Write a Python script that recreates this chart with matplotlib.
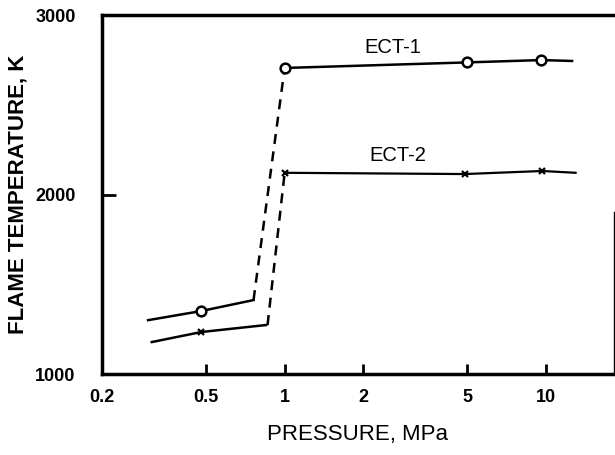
import matplotlib
matplotlib.use("Agg")
import matplotlib.pyplot as plt

plt.rcParams['font.family'] = ['Liberation Sans', 'DejaVu Sans']

# ECT-1 (circles)
ect1_low_p = [0.30, 0.48, 0.76]
ect1_low_t = [1300, 1351, 1412]
ect1_jump_p = [0.76, 1.0]
ect1_jump_t = [1412, 2705]
ect1_high_p = [1.0, 5.0, 9.6, 12.6]
ect1_high_t = [2705, 2736, 2749, 2744]
ect1_mark_p = [0.48, 1.0, 5.0, 9.6]
ect1_mark_t = [1351, 2705, 2736, 2749]

# ECT-2 (crosses)
ect2_low_p = [0.31, 0.48, 0.85]
ect2_low_t = [1178, 1234, 1273]
ect2_jump_p = [0.86, 1.0]
ect2_jump_t = [1273, 2121]
ect2_high_p = [1.0, 4.9, 9.7, 13.0]
ect2_high_t = [2121, 2114, 2131, 2121]
ect2_mark_p = [0.48, 1.0, 4.9, 9.7]
ect2_mark_t = [1234, 2121, 2114, 2131]

xticks = [0.2, 0.5, 1, 2, 5, 10]
xtick_labels = ["0.2", "0.5", "1", "2", "5", "10"]
yticks = [1000, 2000, 3000]

fig = plt.figure(figsize=(6.15, 4.55), dpi=100)
ax = fig.add_axes([0.166, 0.178, 0.832, 0.789])

# curves
ax.plot(ect1_low_p, ect1_low_t, color='black', lw=1.8)
ax.plot(ect1_jump_p, ect1_jump_t, color='black', lw=1.8, ls=(0, (4, 3)))
ax.plot(ect1_high_p, ect1_high_t, color='black', lw=1.8)
ax.plot(ect1_mark_p, ect1_mark_t, 'o', ms=7, mfc='white', mec='black', mew=1.8)

ax.plot(ect2_low_p, ect2_low_t, color='black', lw=1.8)
ax.plot(ect2_jump_p, ect2_jump_t, color='black', lw=1.8, ls=(0, (4, 3)))
ax.plot(ect2_high_p, ect2_high_t, color='black', lw=1.6)
ax.plot(ect2_mark_p, ect2_mark_t, 'x', ms=5, mec='black', mew=1.6)

ax.text(2.6, 2820, "ECT-1", fontsize=14.5, ha='center', va='center')
ax.text(2.7, 2215, "ECT-2", fontsize=14.5, ha='center', va='center')

ax.set_xscale('log')
ax.set_xlim(0.2, 18.2)
ax.set_ylim(1000, 3000)
ax.set_xticks(xticks)
ax.set_xticklabels(xtick_labels)
ax.minorticks_off()
ax.set_yticks(yticks)

ax.tick_params(axis='x', direction='in', length=7, width=2, pad=11, labelsize=13)
ax.tick_params(axis='y', direction='in', length=10, width=2, pad=19, labelsize=13)
for lbl in ax.get_xticklabels() + ax.get_yticklabels():
    lbl.set_fontweight('bold')

for side in ['left', 'bottom', 'top']:
    ax.spines[side].set_linewidth(2.5)
ax.spines['right'].set_linewidth(1.0)
ax.spines['right'].set_bounds(1000, 1900)

ax.set_xlabel("PRESSURE, MPa", fontsize=16, labelpad=13)
ax.set_ylabel("FLAME TEMPERATURE, K", fontsize=16, fontweight='bold', labelpad=5)

fig.savefig("out.png", dpi=100)
